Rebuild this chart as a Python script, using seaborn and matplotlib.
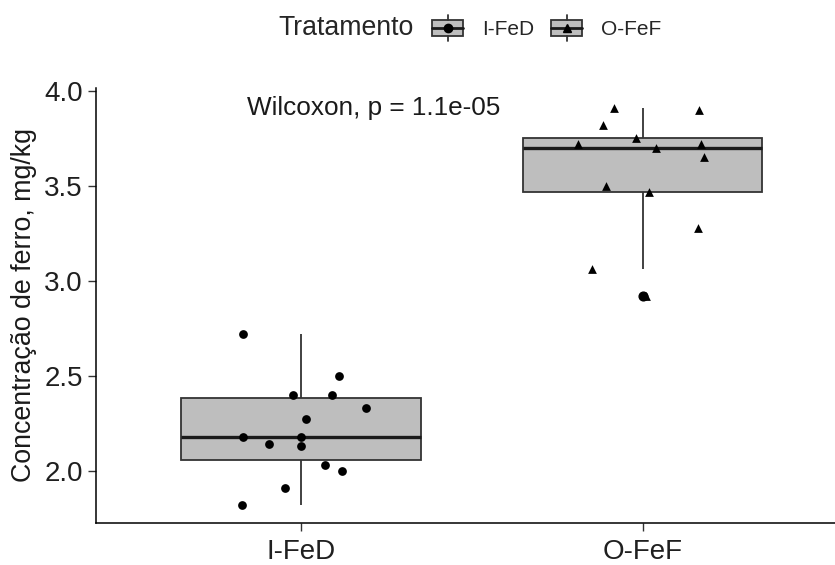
import numpy as np
import pandas as pd
import matplotlib
matplotlib.use("Agg")
import matplotlib.pyplot as plt
import seaborn as sns
from matplotlib.legend_handler import HandlerBase
from matplotlib.lines import Line2D
from matplotlib.patches import Rectangle

# valores
grupos = ["I-FeD", "O-FeF"]
marcadores = ["o", "^"]
ferro_ifed = [2.72, 2.50, 2.40, 2.40, 2.33, 2.27, 2.18, 2.18, 2.14, 2.13, 2.03, 2.00, 1.91, 1.82]
ferro_ofef = [3.91, 3.90, 3.82, 3.75, 3.72, 3.72, 3.70, 3.65, 3.50, 3.47, 3.28, 3.06, 2.92]
rotulo_teste = "Wilcoxon, p = 1.1e-05"
yticks = [2.0, 2.5, 3.0, 3.5, 4.0]

df = pd.DataFrame({
    "Tratamento": [grupos[0]] * len(ferro_ifed) + [grupos[1]] * len(ferro_ofef),
    "ferro": ferro_ifed + ferro_ofef,
})

sns.set_theme(style="ticks")
plt.rcParams["font.family"] = ["Liberation Sans", "DejaVu Sans"]

CINZA = "#BEBEBE"
LINHA = "#333333"


class HandlerCaixa(HandlerBase):
    # chave da legenda no estilo do ggplot: caixa + ponto
    def create_artists(self, legend, orig_handle, xdescent, ydescent,
                       width, height, fontsize, trans):
        x0, y0 = -xdescent, -ydescent
        bh = height * 0.62
        by = y0 + (height - bh) / 2
        ym = y0 + height / 2
        xm = x0 + width / 2
        rect = Rectangle((x0, by), width, bh, facecolor=CINZA,
                         edgecolor=LINHA, lw=1.3, transform=trans)
        med = Line2D([x0, x0 + width], [ym, ym], color="#1a1a1a", lw=2, transform=trans)
        w1 = Line2D([xm, xm], [y0, by], color=LINHA, lw=1.3, transform=trans)
        w2 = Line2D([xm, xm], [by + bh, y0 + height], color=LINHA, lw=1.3, transform=trans)
        pt = Line2D([xm], [ym], marker=orig_handle.get_marker(), color="black",
                    markersize=6, linestyle="none", transform=trans)
        return [rect, med, w1, w2, pt]


fig = plt.figure(figsize=(8.35, 5.65), dpi=100)
ax = fig.add_axes([0.115, 0.0743, 0.9, 0.770])

sns.boxplot(
    data=df, x="Tratamento", y="ferro", order=grupos,
    color=CINZA, saturation=1, width=0.7,
    linecolor=LINHA, linewidth=1.3, showcaps=False,
    flierprops=dict(marker="o", markerfacecolor="black",
                    markeredgecolor="black", markersize=6.3),
    medianprops=dict(color="#1a1a1a", linewidth=2.4),
    ax=ax,
)

np.random.seed(7)
for g, m in zip(grupos, marcadores):
    sns.stripplot(
        data=df[df["Tratamento"] == g], x="Tratamento", y="ferro", order=grupos,
        marker=m, color="black", size=6.3, linewidth=0, jitter=0.2,
        ax=ax, zorder=3,
    )

ax.set_xlim(-0.6, 1.6)
ax.set_ylim(1.725, 4.015)
ax.set_yticks(yticks)
ax.set_yticklabels([f"{v:.1f}" for v in yticks])
ax.set_xlabel("")
ax.set_ylabel("Concentração de ferro, mg/kg", fontsize=19.3, color="#1a1a1a", labelpad=5)

for s in ["top", "right"]:
    ax.spines[s].set_visible(False)
for s in ["left", "bottom"]:
    ax.spines[s].set_color("black")
    ax.spines[s].set_linewidth(1.1)
ax.tick_params(axis="both", length=5.5, width=1.0, color=LINHA,
               labelsize=20, labelcolor="#1f1f1f", pad=4)
ax.tick_params(axis="x", pad=6)

ax.text(-0.158, 3.911, rotulo_teste, fontsize=18.8, va="center", ha="left", color="#1a1a1a")

fig.text(278 / 835, 1 - 28 / 565, "Tratamento", fontsize=19.2, va="center", ha="left")
fig.legend(
    handles=[Line2D([], [], marker=m) for m in marcadores], labels=grupos,
    handler_map={Line2D: HandlerCaixa()}, ncol=2,
    loc="center left", bbox_to_anchor=(432 / 835, 1 - 28 / 565),
    frameon=False, fontsize=15, handlelength=1.49, handleheight=1.54,
    handletextpad=0.91, columnspacing=0.82, borderpad=0, borderaxespad=0,
)

fig.savefig("out.png", dpi=100)
